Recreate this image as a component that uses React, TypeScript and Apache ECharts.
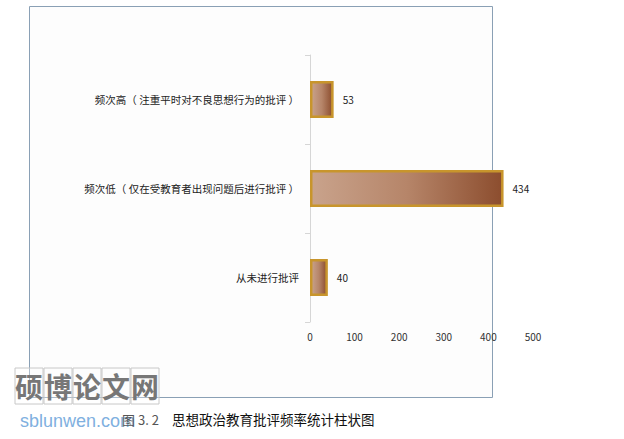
import React, { useEffect, useRef } from 'react';
import * as echarts from 'echarts';

const categories = [
  '从未进行批评',
  '频次低（ 仅在受教育者出现问题后进行批评 ）',
  '频次高（ 注重平时对不良思想行为的批评 ）',
];
const counts = [40, 434, 53];
const xTicks = { min: 0, max: 500, interval: 100 };

const FONT = '"Noto Sans CJK SC", "Noto Sans", sans-serif';

const App: React.FC = () => {
  const chartRef = useRef<HTMLDivElement | null>(null);

  useEffect(() => {
    if (!chartRef.current) return;
    const chart = echarts.init(chartRef.current, undefined, { renderer: 'svg' });

    const watermarkChars = ['硕', '博', '论', '文', '网'];

    chart.setOption({
      animation: false,
      backgroundColor: '#ffffff',
      textStyle: { fontFamily: FONT },
      grid: { left: 310, right: 91, top: 55, bottom: 117 },
      xAxis: {
        type: 'value',
        min: xTicks.min,
        max: xTicks.max,
        interval: xTicks.interval,
        axisLine: { show: false },
        axisTick: { show: false },
        splitLine: { show: false },
        axisLabel: { color: '#333', fontSize: 10, margin: 9, fontFamily: FONT },
      },
      yAxis: {
        type: 'category',
        data: categories,
        axisLine: { show: true, lineStyle: { color: '#d6d6d6', width: 1 } },
        axisTick: { show: true, length: 5, lineStyle: { color: '#d6d6d6' } },
        axisLabel: { color: '#222', fontSize: 10.5, margin: 11, fontFamily: FONT },
      },
      series: [
        {
          type: 'bar',
          data: counts,
          barWidth: 37,
          itemStyle: {
            color: new echarts.graphic.LinearGradient(0, 0, 1, 0, [
              { offset: 0, color: '#c9a38c' },
              { offset: 0.5, color: '#b68569' },
              { offset: 1, color: '#8c4d2e' },
            ]),
            borderColor: '#c8952c',
            borderWidth: 2.5,
          },
          label: {
            show: true,
            position: 'right',
            distance: 9,
            color: '#222',
            fontSize: 10,
            fontFamily: FONT,
          },
        },
      ],
      graphic: [
        {
          type: 'rect',
          z: -10,
          silent: true,
          shape: { x: 29.5, y: 6.5, width: 463, height: 391 },
          style: { fill: '#fdfdfd', stroke: '#8aa0b5', lineWidth: 1 },
        },
        ...watermarkChars.map((ch, i) => ({
          type: 'group',
          silent: true,
          children: [
            {
              type: 'rect',
              shape: { x: 15 + i * 29, y: 368, width: 28, height: 36 },
              style: { fill: 'rgba(255,255,255,0.3)', stroke: '#c8c8c8', lineWidth: 1 },
            },
            {
              type: 'text',
              x: 29 + i * 29,
              y: 386,
              style: {
                text: ch,
                fill: '#777777',
                font: `bold 28px ${FONT}`,
                align: 'center',
                verticalAlign: 'middle',
              },
            },
          ],
        })),
        {
          type: 'text',
          silent: true,
          x: 20,
          y: 421,
          style: {
            text: 'sblunwen.com',
            fill: '#80b0e0',
            font: '18px "Liberation Sans", Arial, sans-serif',
            verticalAlign: 'middle',
          },
        },
        {
          type: 'text',
          silent: true,
          x: 122,
          y: 419,
          style: {
            text: '图 3. 2',
            fill: '#555',
            font: `13px ${FONT}`,
            verticalAlign: 'middle',
          },
        },
        {
          type: 'text',
          silent: true,
          x: 172,
          y: 419,
          style: {
            text: '思想政治教育批评频率统计柱状图',
            fill: '#111',
            font: `13.5px ${FONT}`,
            verticalAlign: 'middle',
          },
        },
      ],
    });

    return () => {
      chart.dispose();
    };
  }, []);

  return (
    <div
      ref={chartRef}
      style={{ position: 'fixed', left: 0, top: 0, width: 624, height: 439 }}
    />
  );
};

export default App;
